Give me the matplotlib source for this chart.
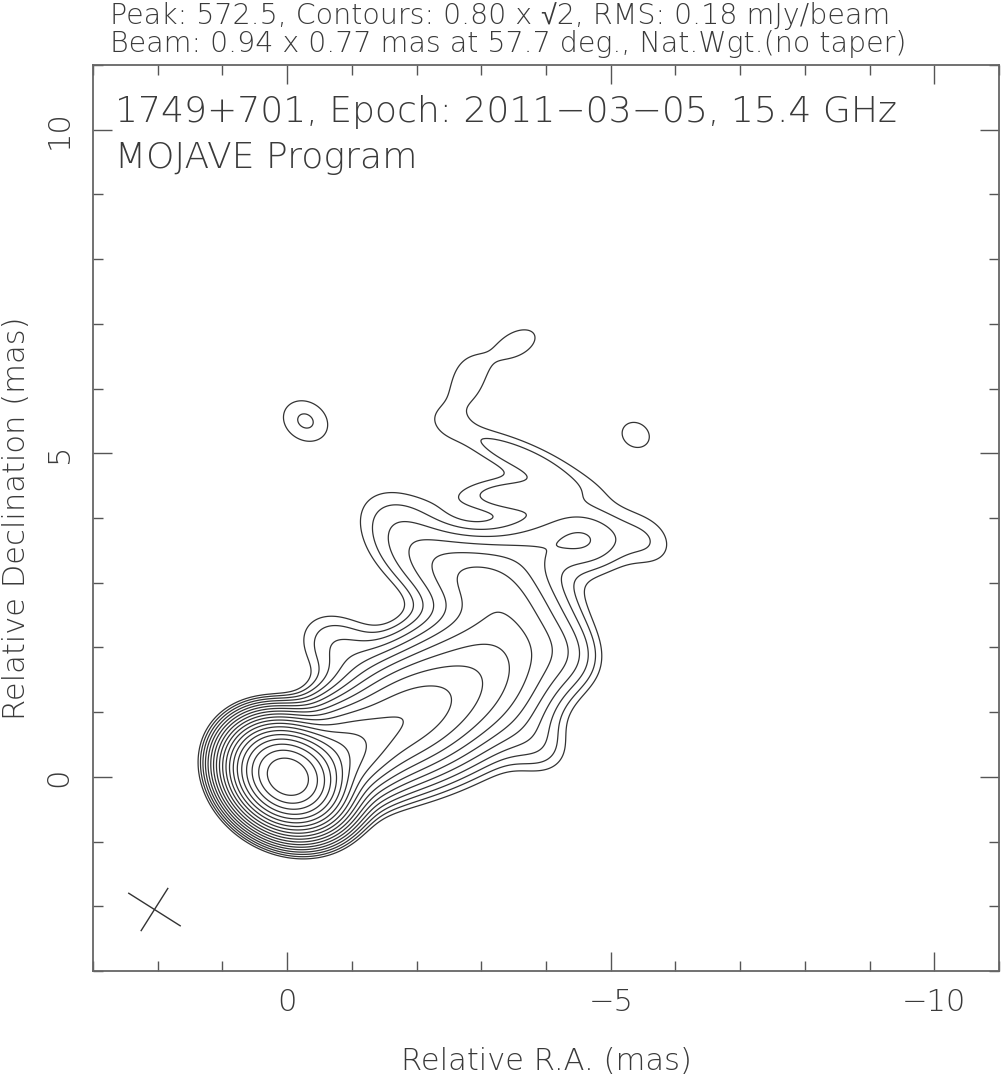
import numpy as np
import matplotlib
matplotlib.use("Agg")
import matplotlib.pyplot as plt

# ---------------- data ----------------
peak_flux = 572.5          # mJy/beam
base_contour = 0.80        # mJy/beam
contour_step = np.sqrt(2)
beam_major = 0.94          # mas
beam_minor = 0.77          # mas
beam_pa = 57.7             # deg
beam_center = (2.05, -2.05)

# Gaussian components (RA offset, Dec offset, peak mJy/beam, FWHM maj, FWHM min, PA deg)
comp_x    = [0.00, -0.70, -1.70, -2.60, -3.40, -4.30, -3.90, -2.40, -3.10, -4.00, -4.70, -5.60,
             -3.45, -3.60, -3.70, -2.45, -2.80, -3.55, -0.28, -5.40, -0.80, -1.70]
comp_y    = [0.00,  0.30,  0.85,  1.30,  2.00,  1.90,  0.45,  3.25,  2.95,  3.60,  3.60,  3.60,
              4.35,  4.95,  4.75,  5.65,  6.15,  6.70,  5.50,  5.30,  2.00,  3.95]
comp_peak = [560.0, 40.0, 18.0, 10.0, 3.5, 1.2, 1.0, 1.9, 2.5, 1.5, 1.0, 0.85,
             1.05, 0.95, 0.50, 0.45, 0.78, 0.95, 1.18, 0.88, 1.5, 1.1]
comp_maj  = [0.94, 1.20, 1.60, 2.00, 1.80, 0.94, 0.94, 1.60, 1.40, 1.80, 0.94, 0.94,
             1.50, 2.00, 3.00, 0.80, 0.80, 1.20, 0.94, 0.94, 1.20, 1.40]
comp_min  = [0.77, 0.90, 1.10, 1.40, 1.50, 0.77, 0.77, 0.90, 0.90, 0.80, 0.77, 0.77,
             0.42, 0.42, 1.40, 0.60, 0.60, 0.70, 0.77, 0.77, 0.90, 1.00]
comp_pa   = [57.7, -65.0, -60.0, -55.0, -20.0, 57.7, 57.7, 71.0, 71.0, 100.0, 57.7, 57.7,
             90.0, 67.0, 67.0, 0.0, 0.0, 117.0, 57.7, 57.7, 57.7, 60.0]

title_line1 = "Peak: 572.5, Contours: 0.80 x \u221a2, RMS: 0.18 mJy/beam"
title_line2 = "Beam: 0.94 x 0.77 mas at 57.7 deg., Nat.Wgt.(no taper)"
label_line1 = "1749+701, Epoch: 2011\u221203\u221205, 15.4 GHz"
label_line2 = "MOJAVE Program"
xtick_vals = [0, -5, -10]
xtick_text = ["0", "\u22125", "\u221210"]
ytick_vals = [0, 5, 10]
ytick_text = ["0", "5", "10"]

# ---------------- font ----------------
plt.rcParams["font.family"] = ["DejaVu Sans", "Liberation Sans", "Noto Sans"]
plt.rcParams["font.weight"] = "light"
plt.rcParams["axes.labelweight"] = "light"
txt_color = "#3a3a3a"

# ---------------- image model ----------------
xg = np.linspace(3.2, -11.2, 721)
yg = np.linspace(-3.2, 11.2, 721)
X, Y = np.meshgrid(xg, yg)
img = np.zeros_like(X)
for x0, y0, p, fmaj, fmin, pa in zip(comp_x, comp_y, comp_peak, comp_maj, comp_min, comp_pa):
    t = np.deg2rad(pa)
    dx, dy = X - x0, Y - y0
    a = dx * np.sin(t) + dy * np.cos(t)
    b = dx * np.cos(t) - dy * np.sin(t)
    sa, sb = fmaj / 2.3548, fmin / 2.3548
    img += p * np.exp(-0.5 * (a ** 2 / sa ** 2 + b ** 2 / sb ** 2))

levels = []
lev = base_contour
while lev < peak_flux:
    levels.append(lev)
    lev *= contour_step

# ---------------- figure ----------------
W, H = 1001, 1079
fig = plt.figure(figsize=(W / 100, H / 100), dpi=100)
ax = fig.add_axes([93 / W, 1 - 971 / H, (999 - 93) / W, (971 - 65) / H])

ax.contour(X, Y, img, levels=levels, colors="#333333", linewidths=0.9)

# beam cross
t = np.deg2rad(beam_pa)
cx, cy = beam_center
ux, uy = np.sin(t), np.cos(t)
vx, vy = np.cos(t), -np.sin(t)
ax.plot([cx - beam_major / 2 * ux, cx + beam_major / 2 * ux],
        [cy - beam_major / 2 * uy, cy + beam_major / 2 * uy], color="#333333", lw=1.0)
ax.plot([cx - beam_minor / 2 * vx, cx + beam_minor / 2 * vx],
        [cy - beam_minor / 2 * vy, cy + beam_minor / 2 * vy], color="#333333", lw=1.0)

ax.set_xlim(3, -11)
ax.set_ylim(-3, 11)

for s in ax.spines.values():
    s.set_color("#666666")
    s.set_linewidth(1.3)

ax.set_xticks(xtick_vals)
ax.set_yticks(ytick_vals)
ax.set_xticks(np.arange(-11, 4, 1), minor=True)
ax.set_yticks(np.arange(-3, 12, 1), minor=True)
ax.tick_params(which="both", direction="in", top=True, right=True, color="#555555", width=1.0)
ax.tick_params(which="major", length=14, labelsize=22, labelcolor=txt_color)
ax.tick_params(axis="x", which="major", pad=12)
ax.tick_params(axis="y", which="major", pad=14)
ax.tick_params(which="minor", length=7)
ax.set_xticklabels(xtick_text)
ax.set_yticklabels(ytick_text, rotation=90, va="center")

ax.set_xlabel("Relative R.A. (mas)", fontsize=22, color=txt_color, labelpad=22)
ax.set_ylabel("Relative Declination (mas)", fontsize=22, color=txt_color, labelpad=10)

fig.text(110 / W, 1 - 24 / H, title_line1, fontsize=20.5, color=txt_color, ha="left", va="baseline")
fig.text(110 / W, 1 - 52 / H, title_line2, fontsize=20.5, color=txt_color, ha="left", va="baseline")
fig.text(115 / W, 1 - 122 / H, label_line1, fontsize=26, color=txt_color, ha="left", va="baseline")
fig.text(115 / W, 1 - 168 / H, label_line2, fontsize=26, color=txt_color, ha="left", va="baseline")

fig.savefig("out.png", dpi=100)
